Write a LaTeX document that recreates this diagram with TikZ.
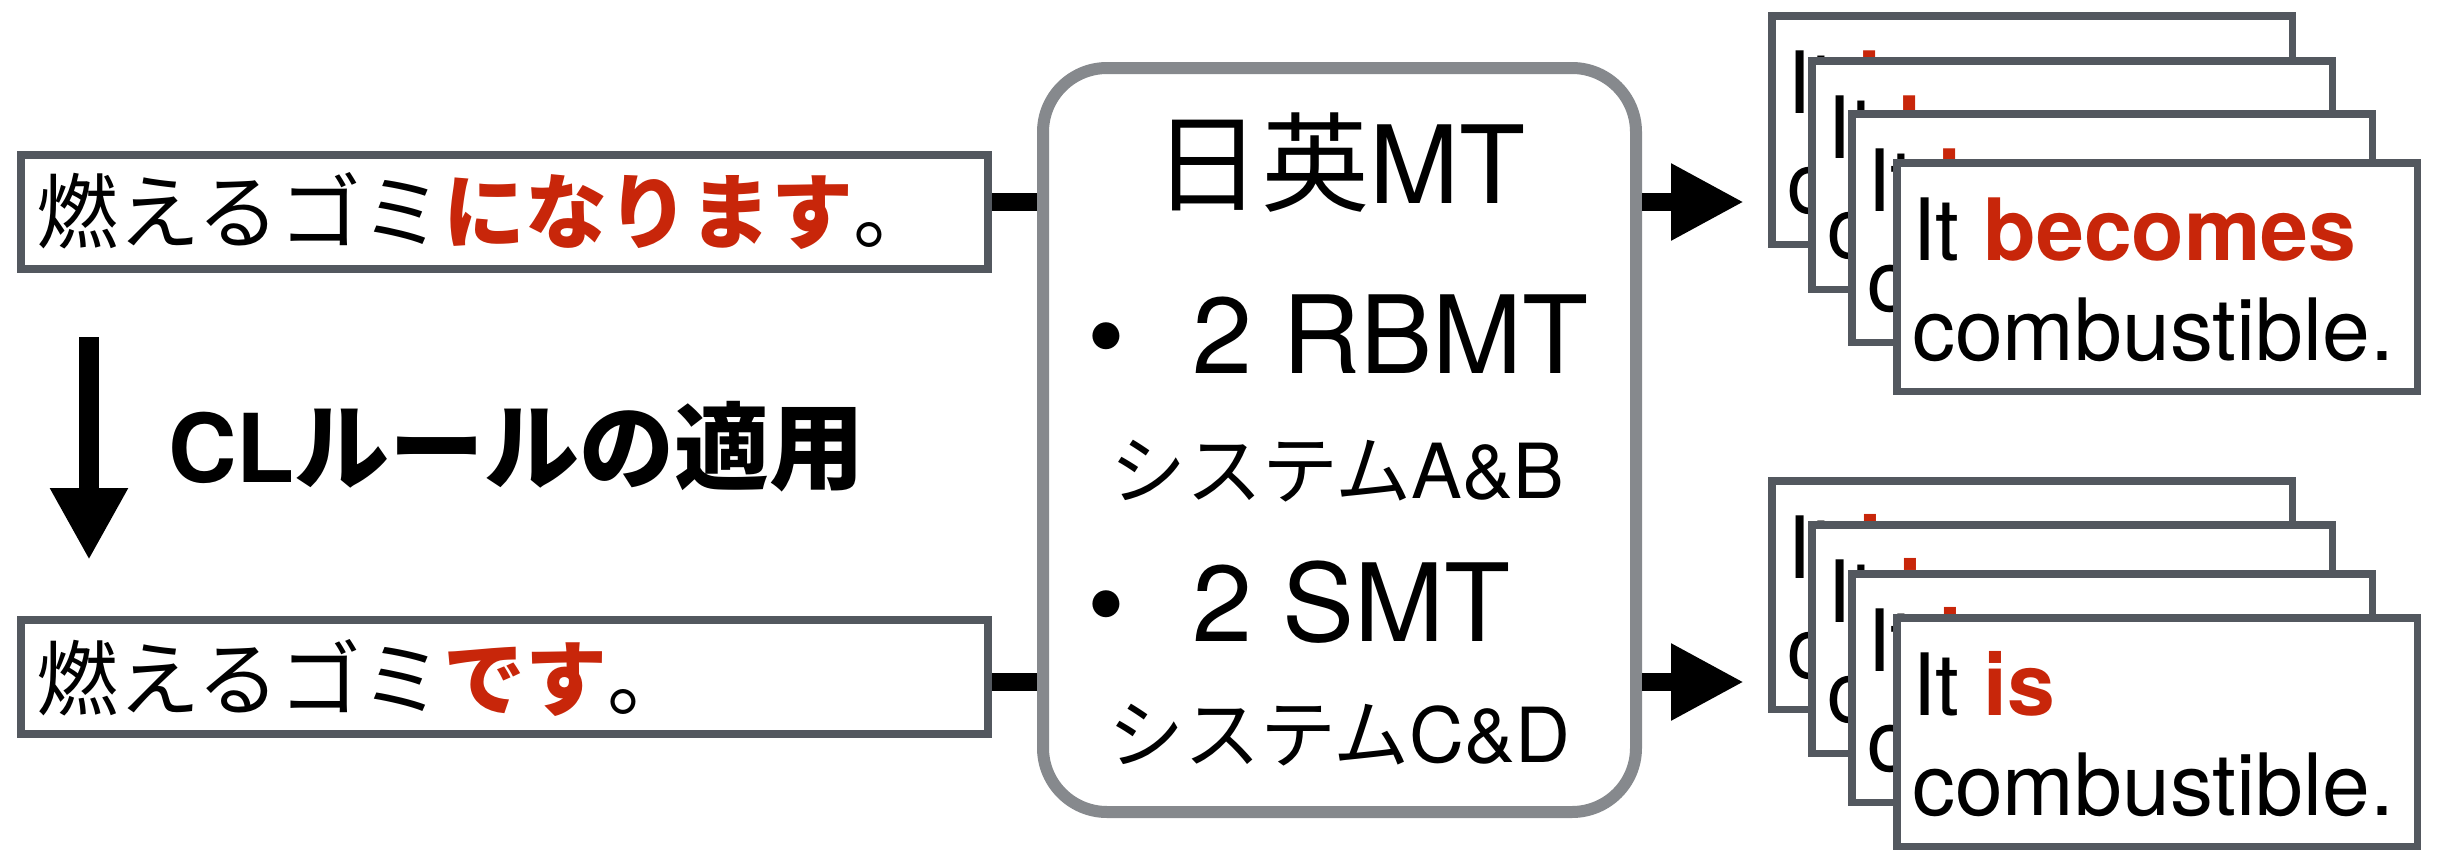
\documentclass[tikz,border=0pt]{standalone}
\usepackage{fontspec}
\setmainfont{TeX Gyre Heros}
\newfontfamily\cjk{Noto Sans CJK JP}
\usetikzlibrary{arrows.meta,calc}
\definecolor{hired}{RGB}{200,38,10}
\definecolor{boxgray}{RGB}{83,88,95}
\definecolor{mtgray}{RGB}{134,137,141}
\newcommand\cdfont{\fontsize{43pt}{50pt}\selectfont}
\newcommand\bigfnt{\fontsize{54pt}{60pt}\selectfont}
\newcommand\smfnt{\fontsize{38pt}{44pt}\selectfont}
\begin{document}
\begin{tikzpicture}[x=0.5pt,y=-0.5pt,
  jbox/.style={draw=boxgray, line width=4pt, fill=white, minimum width=483.5pt, minimum height=57pt, inner sep=0pt},
  card/.style={draw=boxgray, line width=3.75pt, fill=white, minimum width=260.25pt, minimum height=114.25pt, anchor=north west, inner sep=0pt},
  mtbox/.style={draw=mtgray, line width=6pt, rounded corners=32pt, fill=white, minimum width=296.5pt, minimum height=372pt, inner sep=0pt},
  txt/.style={inner sep=0pt, outer sep=0pt},
  conn/.style={line width=9pt},
  fat/.style={line width=9pt, -{Triangle[length=36.5pt,width=36pt]}},
]
\useasboundingbox (0,0) rectangle (2443,851);

% source boxes
\node[jbox] (src1) at (504.5,212) {};
\node[txt, anchor=base west] (src1t) at (36,242) {\fontsize{41pt}{49pt}\selectfont\cjk 燃えるゴミ{\bfseries\color{hired}になります}。};
\node[jbox] (src2) at (504.5,676.5) {};
\node[txt, anchor=base west] (src2t) at (36,709) {\fontsize{41pt}{49pt}\selectfont\cjk 燃えるゴミ{\bfseries\color{hired}です}。};

% down arrow and label
\coordinate (dtop) at (89,337);
\coordinate (dtip) at (89,560);
\draw[line width=10pt, -{Triangle[length=36pt,width=36.5pt]}] (dtop) -- (dtip);
\node[txt, anchor=base west] (cl) at (168,482) {\fontsize{47.5pt}{55pt}\selectfont\bfseries CL{\cjk ルールの適用}};

% MT box
\node[mtbox] (mt) at (1339.5,440) {};
\node[txt, anchor=base] (mttitle) at (1339.5,203) {\bigfnt{\cjk 日英}MT};
\node[txt, anchor=base] (b1) at (1106,373) {\bigfnt •};
\node[txt, anchor=base west] (rbmt) at (1192,373) {\bigfnt 2 RBMT};
\node[txt, anchor=base west] (sysab) at (1110,498) {\smfnt{\cjk システム}A\&B};
\node[txt, anchor=base] (b2) at (1106,641) {\bigfnt •};
\node[txt, anchor=base west] (smt) at (1192,641) {\bigfnt 2 SMT};
\node[txt, anchor=base west] (syscd) at (1108,762) {\smfnt{\cjk システム}C\&D};

% connectors
\coordinate (ya) at (0,202);
\coordinate (yb) at (0,682);
\coordinate (tipa) at (1744,202);
\coordinate (tipb) at (1744,682);
\draw[conn] (src1.east |- ya) -- (mt.west |- ya);
\draw[conn] (src2.east |- yb) -- (mt.west |- yb);
\draw[fat] (mt.east |- ya) -- (tipa);
\draw[fat] (mt.east |- yb) -- (tipb);

% output cards, top stack
\foreach \i/\x/\y in {1/1768/12,2/1808/57,3/1848/110,4/1893/159}{
  \node[card] (ca\i) at (\x,\y) {};
  \node[txt, anchor=base west] (ca\i x) at ($(ca\i.north west)+(19,101)$) {\cdfont It \textbf{\color{hired}becomes}};
  \node[txt, anchor=base west] (ca\i y) at ($(ca\i.north west)+(19,201)$) {\cdfont combustible.};
}
% output cards, bottom stack
\foreach \i/\x/\y in {1/1768/477,2/1808/521,3/1848/570,4/1893/614}{
  \node[card] (cb\i) at (\x,\y) {};
  \node[txt, anchor=base west] (cb\i x) at ($(cb\i.north west)+(19,101)$) {\cdfont It \textbf{\color{hired}is}};
  \node[txt, anchor=base west] (cb\i y) at ($(cb\i.north west)+(19,201)$) {\cdfont combustible.};
}
\end{tikzpicture}
\end{document}
